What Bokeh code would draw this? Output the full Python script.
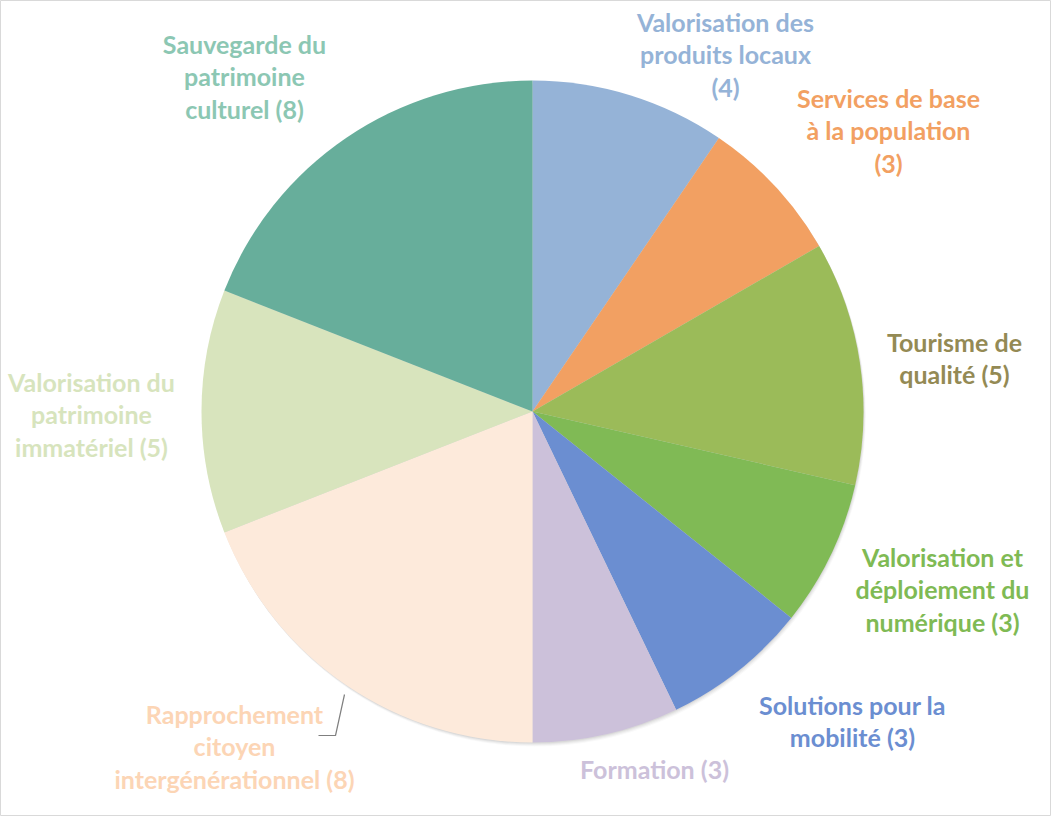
import numpy as np
from bokeh.plotting import figure
from bokeh.models import Range1d, ColumnDataSource
from bokeh.core.properties import value
from bokeh.embed import file_html
from bokeh.resources import INLINE

# ---- data ----
categories = [
    "Valorisation des produits locaux",
    "Services de base à la population",
    "Tourisme de qualité",
    "Valorisation et déploiement du numérique",
    "Solutions pour la mobilité",
    "Formation",
    "Rapprochement citoyen intergénérationnel",
    "Valorisation du patrimoine immatériel",
    "Sauvegarde du patrimoine culturel",
]
counts = [4, 3, 5, 3, 3, 3, 8, 5, 8]
slice_colors = ["#95B3D7", "#F2A062", "#9BBB59", "#80BA55", "#6B8ED1",
                "#CCC1DA", "#FDEADB", "#D8E4BD", "#67AE9B"]
label_colors = ["#95B3D7", "#F2A062", "#948A54", "#7FBA54", "#6B8ED1",
                "#CCC1DA", "#FCD5B5", "#D7E4BD", "#8CC7B3"]
label_lines = [
    ["Valorisation des", "produits locaux", "(4)"],
    ["Services de base", "à la population", "(3)"],
    ["Tourisme de", "qualité (5)"],
    ["Valorisation et", "déploiement du", "numérique (3)"],
    ["Solutions pour la", "mobilité (3)"],
    ["Formation (3)"],
    ["Rapprochement", "citoyen", "intergénérationnel (8)"],
    ["Valorisation du", "patrimoine", "immatériel (5)"],
    ["Sauvegarde du", "patrimoine", "culturel (8)"],
]

# ---- layout (figure pixel coordinates, y measured from top) ----
W, H = 1051, 816
CX, CY, R = 532, 411, 331
label_pos = [(725, 21), (888, 97), (954, 341), (942, 556), (852, 704),
             (654, 768), (234, 713), (91, 381), (244, 43)]
LINE_H = 32.5

p = figure(width=W, height=H, output_backend="svg", toolbar_location=None,
           x_range=Range1d(0, W), y_range=Range1d(0, H),
           min_border=0, background_fill_color="white")
p.axis.visible = False
p.grid.visible = False
p.outline_line_color = "#D9D9D9"
p.outline_line_width = 1

def fy(y):
    return H - y

# shadow
for k, a in [(1, 0.05), (2, 0.04), (3, 0.035), (4, 0.025)]:
    p.circle(x=[CX + k * 0.6], y=[fy(CY) - k], radius=R, fill_color="black",
             fill_alpha=a, line_color=None)

total = sum(counts)
cum = np.cumsum([0] + counts)
starts = [np.pi / 2 - 2 * np.pi * cum[i] / total for i in range(len(counts))]
ends = [np.pi / 2 - 2 * np.pi * cum[i + 1] / total for i in range(len(counts))]
src = ColumnDataSource(dict(x=[CX] * len(counts), y=[fy(CY)] * len(counts),
                            start=starts, end=ends, color=slice_colors,
                            cat=categories, n=counts))
p.wedge(x="x", y="y", radius=R, start_angle="start", end_angle="end",
        direction="clock", fill_color="color", line_color=None, source=src)

# leader line for Rapprochement
p.line(x=[344, 335, 318], y=[fy(694), fy(735), fy(735)], line_color="#7F7F7F",
       line_width=1.2)

xs, ys, ts, cs = [], [], [], []
for (lx, ly), lines, c in zip(label_pos, label_lines, label_colors):
    for j, t in enumerate(lines):
        xs.append(lx)
        ys.append(fy(ly + j * LINE_H))
        ts.append(t)
        cs.append(c)
p.text(x=xs, y=ys, text=ts, text_color=cs, text_align="center",
       text_baseline="middle", text_font=value("Lato"), text_font_style="bold",
       text_font_size="25px")

open("out.html", "w").write(file_html(p, INLINE))
